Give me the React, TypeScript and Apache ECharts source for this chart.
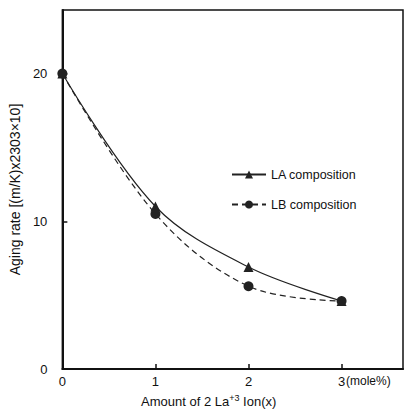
import React, { useEffect, useRef } from "react";
import * as echarts from "echarts";

const xValues = [0, 1, 2, 3];
const laValues = [20, 11.0, 6.9, 4.6];
const lbValues = [20, 10.5, 5.6, 4.6];
const seriesNames = ["LA composition", "LB composition"];
const xTickLabels: Record<number, string> = { 0: "0", 1: "1", 2: "2", 3: "3" };

export default function App() {
  const ref = useRef<HTMLDivElement>(null);
  useEffect(() => {
    if (!ref.current) return;
    const chart = echarts.init(ref.current, undefined, { renderer: "svg" });
    const font = "Liberation Sans, Arial, sans-serif";
    chart.setOption({
      animation: false,
      backgroundColor: "#fff",
      grid: {
        left: 62,
        right: 5,
        top: 10,
        bottom: 41,
        show: true,
        borderColor: "#111",
        borderWidth: 1.5,
      },
      legend: {
        orient: "vertical",
        left: 226,
        top: 163,
        itemGap: 17,
        itemWidth: 34,
        itemHeight: 10,
        data: seriesNames,
        textStyle: { color: "#111", fontSize: 12.5, fontFamily: font },
      },
      xAxis: {
        type: "value",
        min: 0,
        max: 3.66,
        interval: 1,
        name: "Amount of 2 La{sup|+3} Ion(x)",
        nameLocation: "middle",
        nameGap: 24,
        nameTextStyle: {
          color: "#111",
          fontSize: 13,
          fontFamily: font,
          padding: [0, 48, 0, 0],
          rich: {
            sup: { fontSize: 9, verticalAlign: "top", padding: [0, 0, 8, 0], color: "#111" },
          },
        },
        axisLine: { lineStyle: { color: "#111", width: 2 } },
        axisTick: { inside: true, length: 5, lineStyle: { color: "#111", width: 1.5 } },
        axisLabel: {
          color: "#111",
          fontSize: 13,
          fontFamily: font,
          margin: 6,
          showMaxLabel: false,
          formatter: (v: number) => xTickLabels[v] ?? "",
        },
        splitLine: { show: false },
      },
      yAxis: {
        type: "value",
        min: 0,
        max: 24.3,
        interval: 10,
        name: "Aging rate [(m/K)x2303×10]",
        nameLocation: "middle",
        nameGap: 40,
        nameRotate: 90,
        nameTextStyle: { color: "#111", fontSize: 14, fontFamily: font },
        axisLine: { lineStyle: { color: "#111", width: 2 } },
        axisTick: { inside: true, length: 5, lineStyle: { color: "#111", width: 1.5 } },
        axisLabel: {
          color: "#111",
          fontSize: 13,
          fontFamily: font,
          margin: 15,
          showMaxLabel: false,
        },
        splitLine: { show: false },
      },
      graphic: [
        {
          type: "text",
          left: 346,
          top: 375,
          style: { text: "(mole%)", fill: "#111", fontSize: 12, fontFamily: font },
        },
      ],
      series: [
        {
          name: seriesNames[0],
          type: "line",
          data: xValues.map((x, i) => [x, laValues[i]]),
          smooth: 0.35,
          symbol: "triangle",
          symbolSize: 10,
          itemStyle: { color: "#222" },
          lineStyle: { color: "#222", width: 1.2, type: "solid" },
        },
        {
          name: seriesNames[1],
          type: "line",
          data: xValues.map((x, i) => [x, lbValues[i]]),
          smooth: 0.35,
          symbol: "circle",
          symbolSize: 10,
          itemStyle: { color: "#222" },
          lineStyle: { color: "#222", width: 1.2, type: [6, 4] },
        },
      ],
    });
    return () => chart.dispose();
  }, []);
  return (
    <div
      ref={ref}
      style={{ position: "fixed", left: 0, top: 0, width: 408, height: 413 }}
    />
  );
}
